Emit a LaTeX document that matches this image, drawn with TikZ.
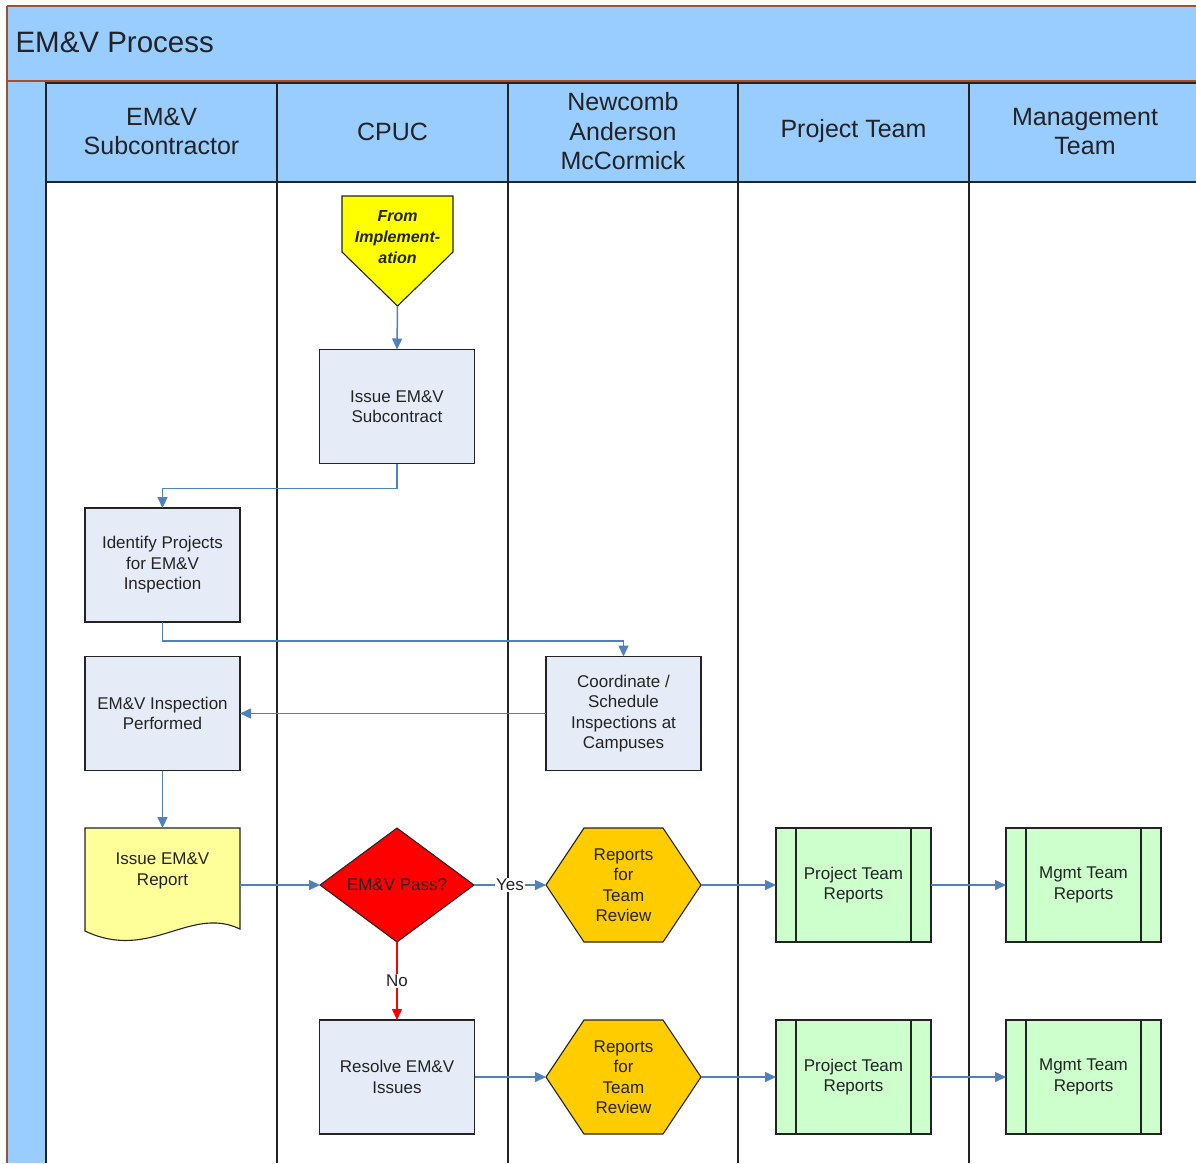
\documentclass[tikz,border=0pt]{standalone}
\usepackage{fontspec}
\setmainfont{Liberation Sans}
\usetikzlibrary{positioning,calc,shapes,arrows.meta,backgrounds}
\definecolor{LaneBlue}{RGB}{153,204,255}
\definecolor{LaneBrown}{RGB}{168,78,40}
\definecolor{StepFill}{RGB}{230,236,247}
\definecolor{FlowBlue}{RGB}{79,129,189}
\definecolor{FlowRed}{RGB}{255,0,0}
\definecolor{DocYellow}{RGB}{255,255,153}
\definecolor{OffYellow}{RGB}{255,255,0}
\definecolor{HexGold}{RGB}{255,204,0}
\definecolor{ReportGreen}{RGB}{204,255,204}
\definecolor{InkGray}{RGB}{35,35,35}
\newcommand{\emvboxfont}{\fontsize{17}{20.5}\selectfont}
\newcommand{\emvheadfont}{\fontsize{25}{29.5}\selectfont}
\tikzset{%
  border/.style={draw=LaneBrown},
  lane/.style={draw=InkGray, line width=1.4pt},
  titletext/.style={anchor=west, text=InkGray, font=\fontsize{29.5}{35}\selectfont},
  lanehead/.style={text=InkGray, align=center, font=\emvheadfont},
  process/.style={%
    draw=InkGray, line width=1.3pt, fill=StepFill, text=InkGray,
    minimum width=155pt, minimum height=114pt, align=center,
    outer sep=0pt, font=\emvboxfont
  },
  predefined/.style={process, fill=ReportGreen},
  decision/.style={%
    shape=diamond, draw=InkGray, line width=1pt, fill=FlowRed, text=InkGray,
    minimum width=154pt, minimum height=114pt, inner sep=0pt,
    outer sep=0pt, font=\emvboxfont
  },
  hidden/.style={%
    minimum width=155pt, minimum height=114pt, align=center, text=InkGray,
    outer sep=0pt, font=\emvboxfont
  },
  shapeline/.style={draw=InkGray, line width=1.1pt},
  arrow/.style={color=FlowBlue, line width=1.5pt, -{Triangle[length=11pt,width=10pt]}},
  noarrow/.style={arrow, color=FlowRed},
  flowlabel/.style={fill=white, text=InkGray, inner sep=1.5pt, font=\emvboxfont},
}

\begin{document}
\begin{tikzpicture}[x=1pt, y=-1pt]
  \useasboundingbox (0,0) rectangle (1196,1163);

  % pool title and lanes
  \fill[LaneBlue] (7,6) rectangle (1200,81);
  \fill[LaneBlue] (7,82) rectangle (46,1163);
  \draw[border, line width=1.2pt] (7,6) -- (1200,6);
  \draw[border, line width=2.4pt] (7,81) -- (1200,81);
  \draw[border, line width=1.5pt] (7,6) -- (7,1163);
  \node[titletext] (title) at (12,42) {EM\&V Process};

  \filldraw[lane, fill=LaneBlue] (46,83) rectangle (1200,182);
  \foreach \xx in {46,277,508,738,969}
    \draw[lane] (\xx,83) -- (\xx,1163);

  \foreach \nm/\xx/\txt in {hdSub/161.5/{EM\&V\\Subcontractor},
      hdCpuc/392.5/{CPUC}, hdNam/623/{Newcomb\\Anderson\\McCormick},
      hdProj/853.5/{Project Team}, hdMgmt/1085/{Management\\Team}}
    \node[lanehead] (\nm) at (\xx,131.5) {\txt};

  % steps
  \node[hidden, minimum width=111pt, minimum height=110pt,
    label={[align=center, text=InkGray, yshift=14pt,
      font=\fontsize{16}{21}\selectfont\bfseries\itshape]center:From\\Implement-\\ation}]
    (fromImpl) at (397.5,251) {};
  \node[process] (subcontract) at (397,406.5) {Issue EM\&V\\Subcontract};
  \node[process] (identify) at (162.5,565) {Identify Projects\\for EM\&V\\Inspection};
  \node[process] (inspection) at (162.5,713.5) {EM\&V Inspection\\Performed};
  \node[process] (coordinate) at (623.5,713.5) {Coordinate /\\Schedule\\Inspections at\\Campuses};
  \node[hidden, label={[align=center, text=InkGray, yshift=14pt, font=\emvboxfont]center:Issue EM\&V\\Report}]
    (report) at (162.5,885) {};
  \node[decision] (pass) at (397,885) {EM\&V Pass?};
  \node[hidden] (hexYes) at (623.5,885) {Reports\\for\\Team\\Review};
  \node[predefined, right=75pt of hexYes] (ptrYes) {Project Team\\Reports};
  \node[predefined, right=75pt of ptrYes] (mgmtYes) {Mgmt Team\\Reports};

  \node[process, below=78pt of pass] (resolve) {Resolve EM\&V\\Issues};
  \node[hidden, below=78pt of hexYes] (hexFix) {Reports\\for\\Team\\Review};
  \node[predefined, right=75pt of hexFix] (ptrFix) {Project Team\\Reports};
  \node[predefined, right=75pt of ptrFix] (mgmtFix) {Mgmt Team\\Reports};

  \foreach \n in {ptrYes,mgmtYes,ptrFix,mgmtFix}
    \draw[shapeline, line width=1.3pt]
      ($(\n.north west)+(20,0)$) -- ($(\n.south west)+(20,0)$)
      ($(\n.north east)+(-20,0)$) -- ($(\n.south east)+(-20,0)$);

  % flows
  \draw[arrow] (fromImpl.south) -- (subcontract.north);
  \draw[arrow] (subcontract.south) -- ++(0,25) -| (identify.north);
  \draw[arrow] (identify.south) -- ++(0,19) -| (coordinate.north);
  \draw[arrow] (coordinate.west) -- (inspection.east);
  \draw[arrow] (inspection.south) -- (report.north);
  \draw[arrow] (report.east) -- (pass.west);
  \draw[arrow] (pass.east) -- node[flowlabel] (yesLbl) {Yes} (hexYes.west);
  \draw[noarrow] (pass.south) -- node[flowlabel] (noLbl) {No} (resolve.north);
  \draw[arrow] (hexYes.east) -- (ptrYes.west);
  \draw[arrow] (ptrYes.east) -- (mgmtYes.west);
  \draw[arrow] (resolve.east) -- (hexFix.west);
  \draw[arrow] (hexFix.east) -- (ptrFix.west);
  \draw[arrow] (ptrFix.east) -- (mgmtFix.west);

  % outlines drawn under the texts
  \begin{scope}[on background layer]
    \fill[white] (0,0) rectangle (1196,1163);
    \filldraw[shapeline, fill=OffYellow]
      (fromImpl.north west) -- (fromImpl.north east)
      -- ($(fromImpl.south east)+(0,-54)$) -- (fromImpl.south)
      -- ($(fromImpl.south west)+(0,-54)$) -- cycle;
    \filldraw[shapeline, fill=DocYellow]
      (report.north west) -- (report.north east)
      -- ($(report.south east)+(0,-13)$)
      .. controls ($(report.south east)+(-50,-37)$) and ($(report.south west)+(65,20)$)
      .. ($(report.south west)+(0,-11)$) -- cycle;
    \foreach \hx in {hexYes,hexFix}
      \filldraw[shapeline, fill=HexGold]
        (\hx.west) -- ($(\hx.north west)+(38,0)$) -- ($(\hx.north east)+(-38,0)$)
        -- (\hx.east) -- ($(\hx.south east)+(-38,0)$) -- ($(\hx.south west)+(38,0)$) -- cycle;
  \end{scope}
\end{tikzpicture}
\end{document}
